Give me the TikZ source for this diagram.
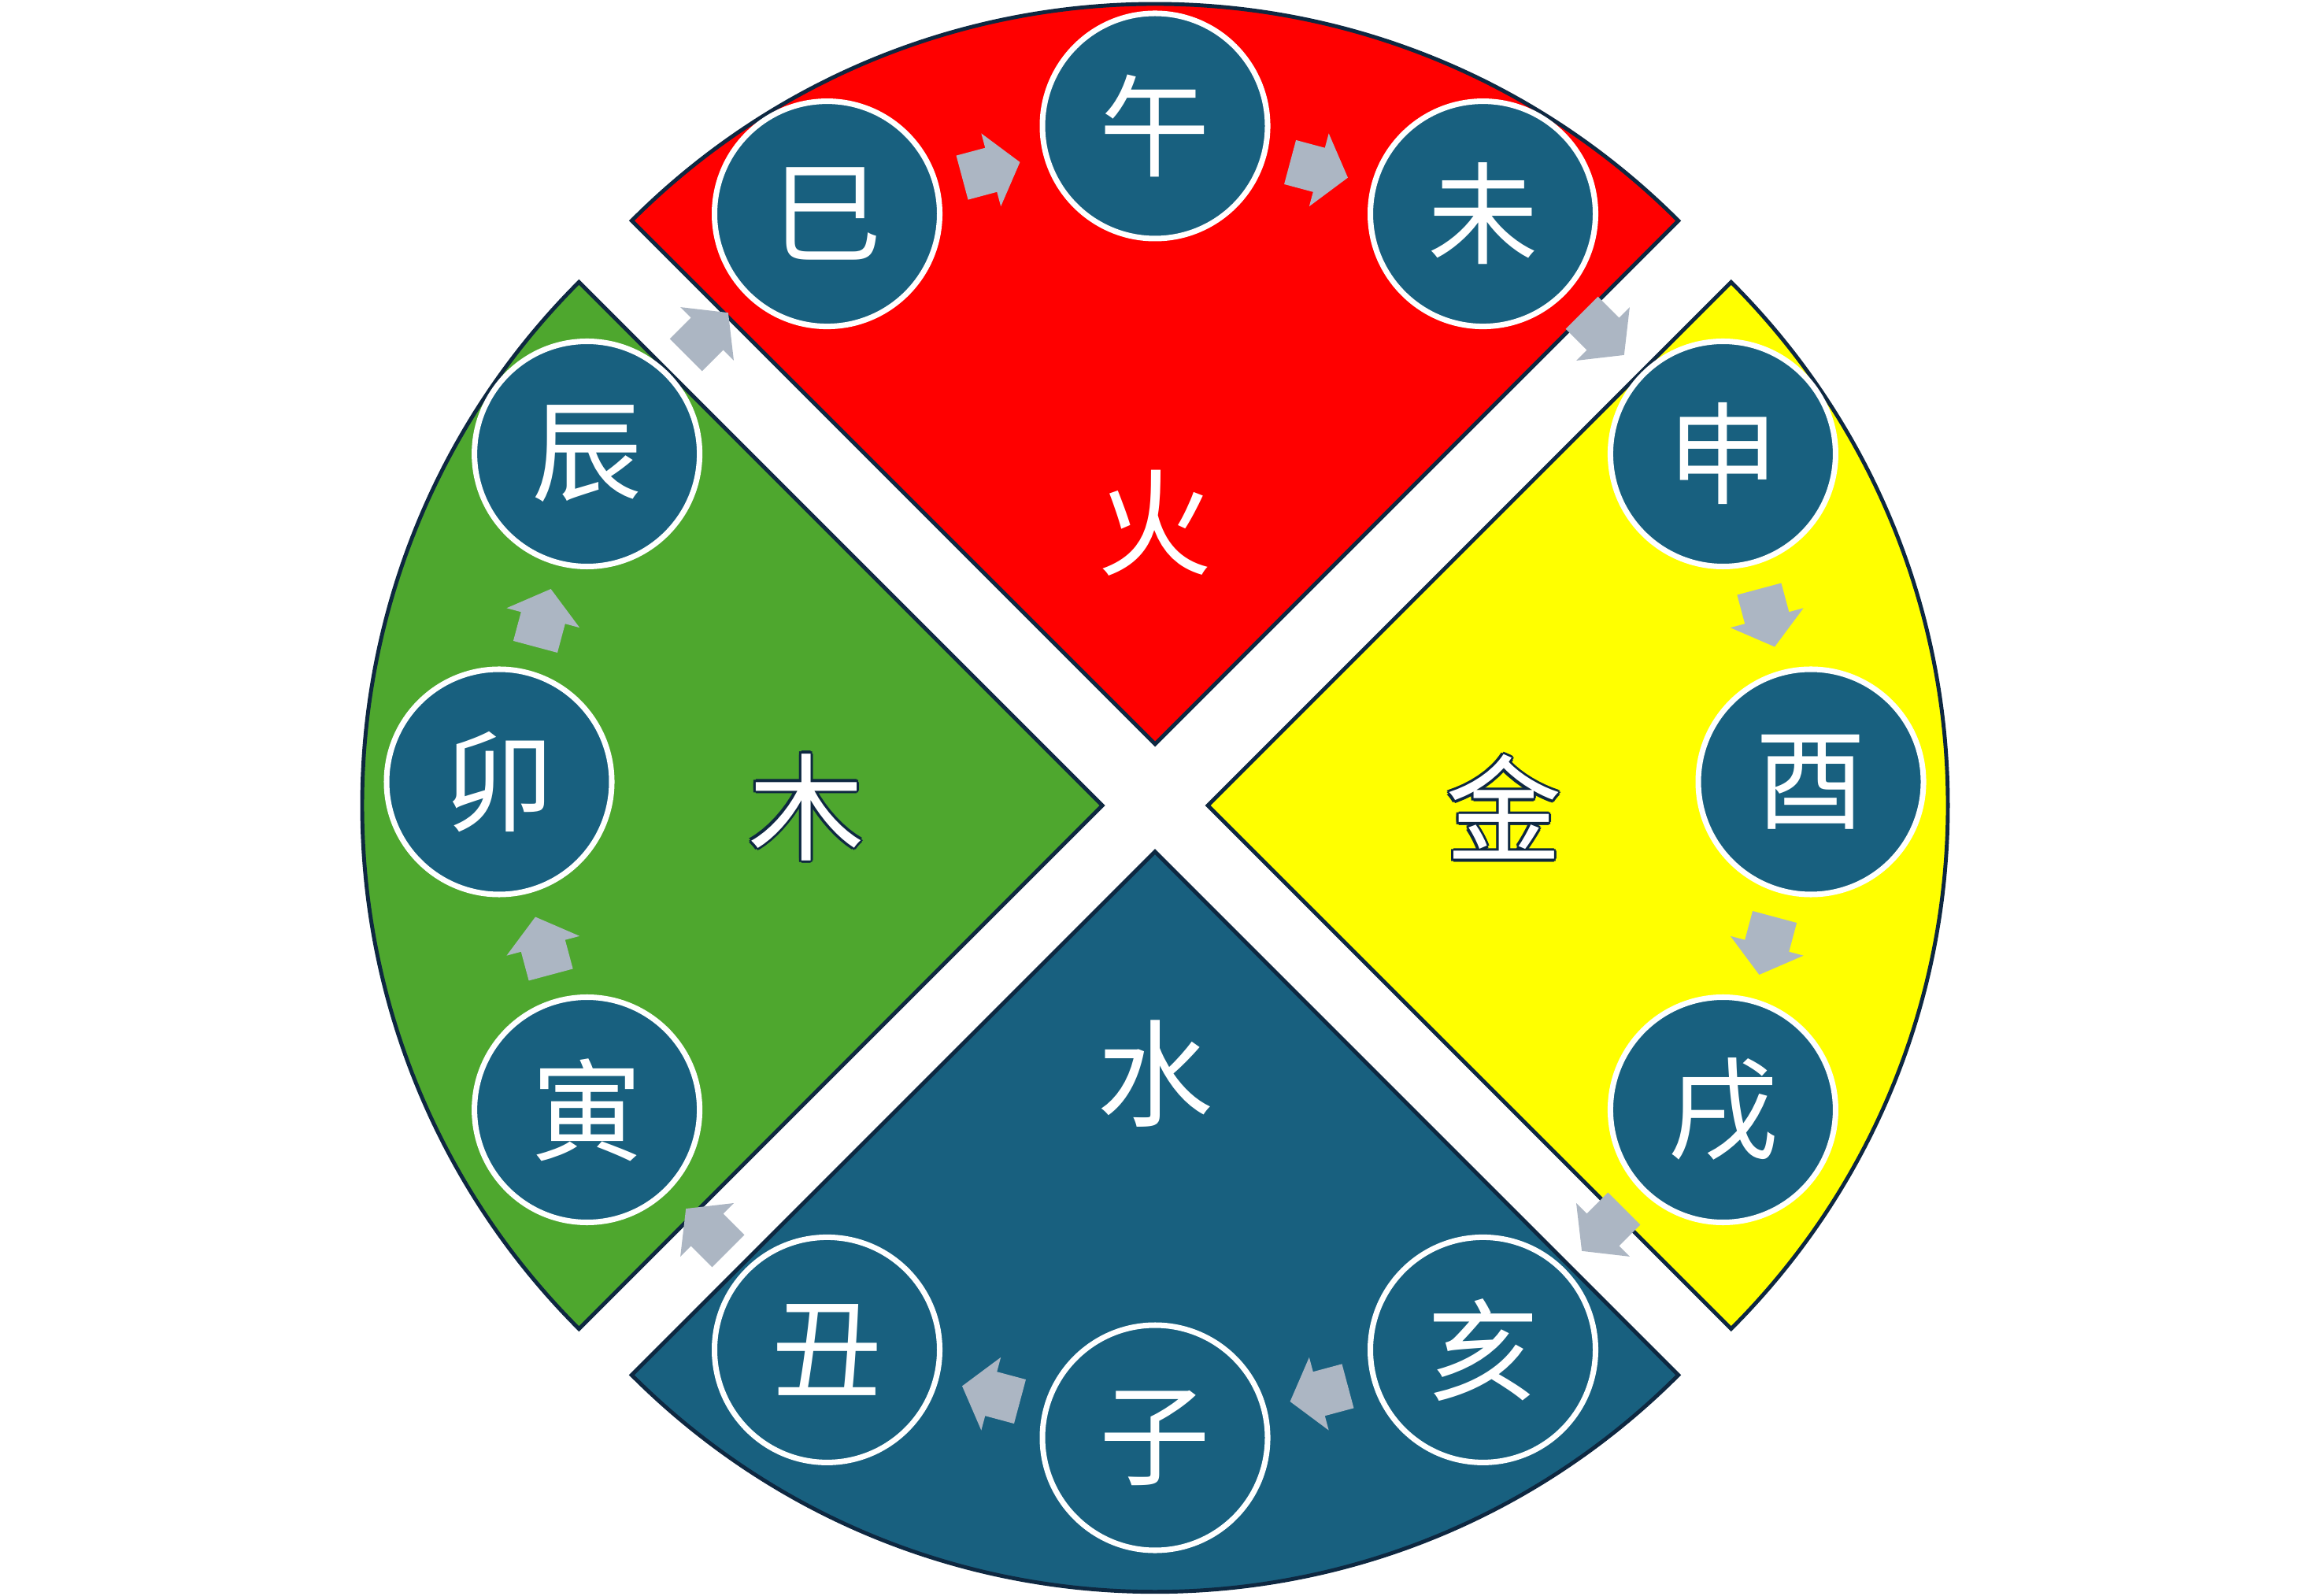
\documentclass[tikz,border=0pt]{standalone}
\usepackage{fontspec}
\newfontfamily\cjk{Noto Sans CJK TC}
\usetikzlibrary{calc}
\definecolor{fire}{HTML}{FF0000}
\definecolor{metal}{HTML}{FFFF00}
\definecolor{wood}{HTML}{4EA72E}
\definecolor{water}{HTML}{18607F}
\definecolor{outl}{HTML}{0E2841}
\definecolor{arrowgray}{HTML}{ACB6C3}
\newcommand\olc[3]{\rlap{\kern#1\raisebox{#2}{\textcolor{outl}{#3}}}}
\newcommand\myoutl[1]{\olc{0.9pt}{0pt}{#1}\olc{-0.9pt}{0pt}{#1}\olc{0pt}{0.9pt}{#1}\olc{0pt}{-0.9pt}{#1}\olc{0.64pt}{0.64pt}{#1}\olc{-0.64pt}{0.64pt}{#1}\olc{0.64pt}{-0.64pt}{#1}\olc{-0.64pt}{-0.64pt}{#1}#1}
\tikzset{
  sector/.style={draw=outl, line width=1.4pt, line join=miter},
  branch/.style={circle, fill=water, draw=white, line width=2pt, minimum size=2.86cm, inner sep=0pt,
    text=white, font=\cjk\fontsize{40}{40}\selectfont},
  elem/.style={text=white, inner sep=0pt, font=\cjk\fontsize{42}{42}\selectfont},
  blockarrow/.style={fill=arrowgray}
}
\begin{document}
\begin{tikzpicture}
\useasboundingbox (0,0) rectangle (29.34,20.26);
% sectors
\coordinate (pF) at (14.67,10.81);
\coordinate (pM) at (15.34,10.03);
\coordinate (pW) at (14.67,9.443);
\coordinate (pT) at (14.00,10.03);
\path[sector, fill=fire] (pF) -- ++(45:9.4) arc[start angle=45, end angle=135, radius=9.4cm] -- cycle;
\path[sector, fill=metal] (pM) -- ++(-45:9.4) arc[start angle=-45, end angle=45, radius=9.4cm] -- cycle;
\path[sector, fill=water] (pW) -- ++(225:9.4) arc[start angle=225, end angle=315, radius=9.4cm] -- cycle;
\path[sector, fill=wood] (pT) -- ++(135:9.4) arc[start angle=135, end angle=225, radius=9.4cm] -- cycle;
% branch circles
\coordinate (ctr) at (14.67,10.33);
\foreach \n/\ang in {c1/120, c2/90, c3/60, c4/30, c5/0, c6/-30,
  c7/-60, c8/-90, c9/-120, c10/-150, c11/180, c12/150}
  \coordinate (\n) at ($(ctr)+(\ang:8.33)$);
% arrows
\foreach \a/\b in {c1/c2, c2/c3, c3/c4, c4/c5, c5/c6, c6/c7, c7/c8, c8/c9, c9/c10, c10/c11, c11/c12, c12/c1} {
  \coordinate (m) at ($(\a)!0.5!(\b)$);
  \coordinate (tl) at ($(m)!-0.38cm!(\b)$);
  \fill[blockarrow] ($(tl)!0.29cm!90:(\b)$) -- ($(m)!0.29cm!90:(\b)$) -- ($(m)!0.48cm!90:(\b)$)
    -- ($(m)!0.38cm!(\b)$) -- ($(m)!0.48cm!-90:(\b)$) -- ($(m)!0.29cm!-90:(\b)$)
    -- ($(tl)!0.29cm!-90:(\b)$) -- cycle;
}
\foreach \n/\t in {c1/巳, c2/午, c3/未, c4/申, c5/酉, c6/戌, c7/亥, c8/子, c9/丑, c10/寅, c11/卯, c12/辰}
  \node[branch] (n\n) at (\n) {\t};
% element labels
\node[elem] (fireL) at (14.67,13.62) {火};
\node[elem] (waterL) at (14.67,6.62) {水};
\node[elem] (woodL) at (10.24,10.01) {\myoutl{木}};
\node[elem] (metalL) at (19.10,10.01) {\myoutl{金}};
\end{tikzpicture}
\end{document}
